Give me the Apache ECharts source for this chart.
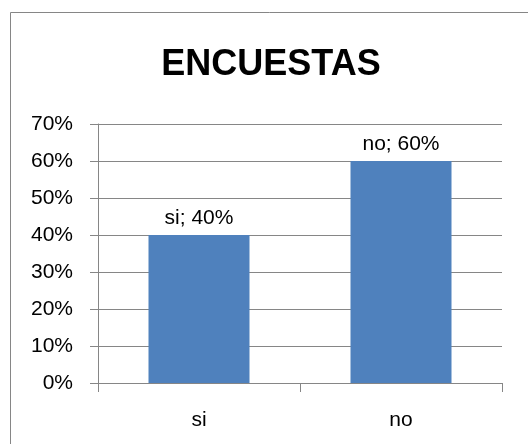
<!DOCTYPE html>
<html><head><meta charset="utf-8">
<script src="https://cdn.jsdelivr.net/npm/echarts@6/dist/echarts.min.js"></script>
<style>html,body{margin:0;padding:0;background:#fff}#c{width:528px;height:444px}</style>
</head><body><div id="c"></div>
<script>
const titleText = 'ENCUESTAS';
const categories = ['si', 'no'];
const values = [0.40, 0.60];
const yTicks = [0, 0.1, 0.2, 0.3, 0.4, 0.5, 0.6, 0.7];

const chart = echarts.init(document.getElementById('c'), null, {renderer: 'canvas'});
const font = 'Liberation Sans, Arial, sans-serif';
const pct = v => Math.round(v * 100) + '%';
chart.setOption({
  animation: false,
  backgroundColor: '#fff',
  graphic: [{
    type: 'rect', shape: {x: 10.5, y: 12.5, width: 700, height: 700},
    style: {fill: 'none', stroke: '#868686', lineWidth: 1}, silent: true
  }],
  title: {
    text: titleText, left: 266, textAlign: 'center', top: 42,
    textStyle: {fontFamily: font, fontWeight: 'bold', fontSize: 36, color: '#000'}
  },
  grid: {left: 98, right: 26, top: 124, bottom: 61, containLabel: false},
  xAxis: {
    type: 'category', data: categories,
    axisLine: {lineStyle: {color: '#868686', width: 1}},
    axisTick: {show: true, length: 9, lineStyle: {color: '#868686'}},
    axisLabel: {fontFamily: font, fontSize: 21, color: '#000', margin: 27}
  },
  yAxis: {
    type: 'value', min: 0, max: yTicks[yTicks.length - 1], interval: 0.1,
    axisLine: {show: true, lineStyle: {color: '#868686', width: 1}},
    axisTick: {show: true, length: 8, lineStyle: {color: '#868686'}},
    splitLine: {show: true, lineStyle: {color: '#868686', width: 1}},
    axisLabel: {fontFamily: font, fontSize: 21, color: '#000', margin: 25, formatter: v => pct(v)}
  },
  series: [{
    type: 'bar', data: values, barWidth: '50%',
    itemStyle: {color: '#4F81BD'},
    label: {
      show: true, position: 'top', distance: 6,
      fontFamily: font, fontSize: 21, color: '#000',
      formatter: p => p.name + '; ' + pct(p.value)
    }
  }]
});
</script></body></html>
